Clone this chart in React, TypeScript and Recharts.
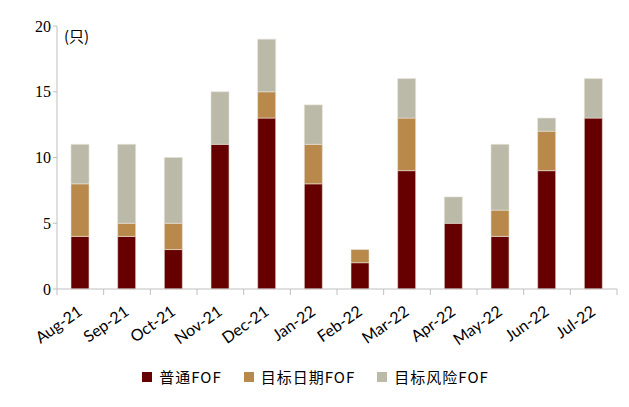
import React from "react";
import { BarChart, Bar, XAxis, YAxis, Legend } from "recharts";

const months = ["Aug-21", "Sep-21", "Oct-21", "Nov-21", "Dec-21", "Jan-22", "Feb-22", "Mar-22", "Apr-22", "May-22", "Jun-22", "Jul-22"];
const normalFof = [4, 4, 3, 11, 13, 8, 2, 9, 5, 4, 9, 13];
const targetDateFof = [4, 1, 2, 0, 2, 3, 1, 4, 0, 2, 3, 0];
const targetRiskFof = [3, 6, 5, 4, 4, 3, 0, 3, 2, 5, 1, 3];
const yTicks = [0, 5, 10, 15, 20];

const seriesNames = ["普通FOF", "目标日期FOF", "目标风险FOF"];
const colors = ["#660000", "#B8894A", "#BBB9A7"];

const data = months.map((m, i) => ({
  month: m,
  normal: normalFof[i],
  date: targetDateFof[i],
  risk: targetRiskFof[i],
}));

const AXIS = "#BFBFBF";

const XTick = (props: any) => {
  const { x, y, payload, index } = props;
  const off = payload.offset || 0;
  const last = index === months.length - 1;
  return (
    <g>
      <line x1={x - off} y1={y - 8} x2={x - off} y2={y - 2} stroke={AXIS} />
      {last && <line x1={x + off} y1={y - 8} x2={x + off} y2={y - 2} stroke={AXIS} />}
      <text
        x={x + 3}
        y={y + 17}
        textAnchor="end"
        transform={`rotate(-35 ${x + 3} ${y + 17})`}
        fontFamily="Lato, 'Open Sans', sans-serif"
        fontSize={16}
        fill="#000"
      >
        {payload.value}
      </text>
    </g>
  );
};

const LegendContent = () => (
  <div style={{ display: "flex", justifyContent: "center", paddingTop: 19, paddingLeft: 14, fontFamily: "'Noto Sans CJK SC', serif", fontSize: 15, color: "#000", letterSpacing: 1 }}>
    {seriesNames.map((n, i) => (
      <div key={n} style={{ display: "flex", alignItems: "center", marginRight: i < 2 ? 22 : 0 }}>
        <span style={{ width: 10, height: 10, background: colors[i], display: "inline-block", marginRight: 7 }} />
        <span>{n}</span>
      </div>
    ))}
  </div>
);

export default function App() {
  return (
    <div style={{ position: "absolute", left: 0, top: 0, width: 629, height: 407, background: "#fff" }}>
      <BarChart width={629} height={407} data={data} margin={{ top: 26, right: 12, left: 0, bottom: 0 }} barCategoryGap={0}>
        <XAxis
          dataKey="month"
          axisLine={{ stroke: AXIS }}
          tickLine={false}
          tick={<XTick />}
          interval={0}
          height={58}
        />
        <YAxis
          domain={[0, 20]}
          ticks={yTicks}
          width={57}
          axisLine={{ stroke: AXIS }}
          tickLine={{ stroke: AXIS }}
          tickSize={4}
          tick={{ fontFamily: "'Liberation Serif', serif", fontSize: 16, fill: "#000" }}
        />
        <Legend verticalAlign="bottom" height={60} content={<LegendContent />} />
        <Bar dataKey="normal" name={seriesNames[0]} stackId="a" fill={colors[0]} stroke="#E8E0D8" strokeWidth={0.6} barSize={18} isAnimationActive={false} />
        <Bar dataKey="date" name={seriesNames[1]} stackId="a" fill={colors[1]} stroke="#E8E0D8" strokeWidth={0.6} barSize={18} isAnimationActive={false} />
        <Bar dataKey="risk" name={seriesNames[2]} stackId="a" fill={colors[2]} stroke="#E8E0D8" strokeWidth={0.6} barSize={18} isAnimationActive={false} />
      </BarChart>
      <div style={{ position: "absolute", left: 64, top: 25, fontFamily: "'Noto Sans CJK SC', serif", fontSize: 15, color: "#000" }}>(只)</div>
    </div>
  );
}
